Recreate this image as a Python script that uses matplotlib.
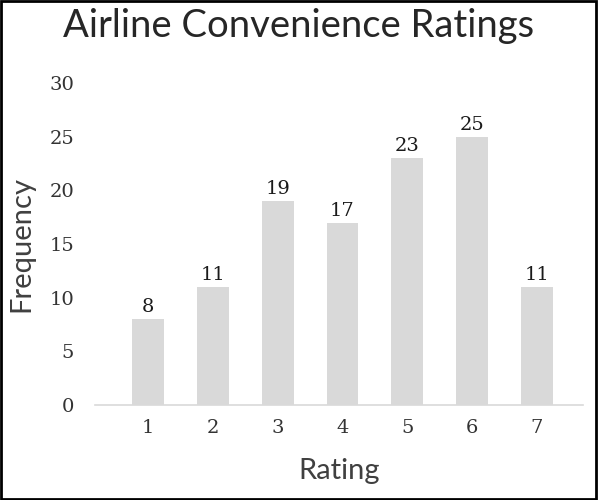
import matplotlib
matplotlib.use("Agg")
import matplotlib.pyplot as plt
from matplotlib.patches import Rectangle

# data
ratings = [1, 2, 3, 4, 5, 6, 7]
frequency = [8, 11, 19, 17, 23, 25, 11]
yticks = [0, 5, 10, 15, 20, 25, 30]

bar_color = "#d9d9d9"
text_color = "#404040"
serif = ["DejaVu Serif"]
sans = ["Lato", "DejaVu Sans"]

fig = plt.figure(figsize=(5.98, 5.0), dpi=100)
ax = fig.add_axes([0.159, 0.19, 0.816, 0.644])

bars = ax.bar(ratings, frequency, width=0.49, color=bar_color, zorder=2)
for x, v in zip(ratings, frequency):
    ax.text(x, v + 0.25, str(v), ha="center", va="bottom",
            fontsize=14, family=serif, color="#1a1a1a")

ax.set_xlim(0.185, 7.71)
ax.set_ylim(0, 30)
ax.set_yticks(yticks)
ax.set_xticks(ratings)
ax.set_xticklabels([str(r) for r in ratings], family=serif, fontsize=14, color="#333333")
ax.set_yticklabels([str(t) for t in yticks], family=serif, fontsize=14, color="#333333")
ax.tick_params(axis="both", length=0)
ax.tick_params(axis="y", pad=15)
ax.tick_params(axis="x", pad=10)

for side in ["top", "right", "left"]:
    ax.spines[side].set_visible(False)
ax.spines["bottom"].set_color(bar_color)
ax.spines["bottom"].set_linewidth(1.2)

ax.set_xlabel("Rating", family=sans, fontsize=21, color=text_color, labelpad=15)
ax.set_ylabel("Frequency", family=sans, fontsize=21, color=text_color, labelpad=11)
fig.text(0.5, 0.948, "Airline Convenience Ratings", ha="center", va="center",
         family=sans, fontsize=27.5, color="#262626")

fig.patches.append(Rectangle((0.001, 0.002), 0.996, 0.996, transform=fig.transFigure,
                             fill=False, edgecolor="black", linewidth=2))

fig.savefig("out.png", dpi=100)
